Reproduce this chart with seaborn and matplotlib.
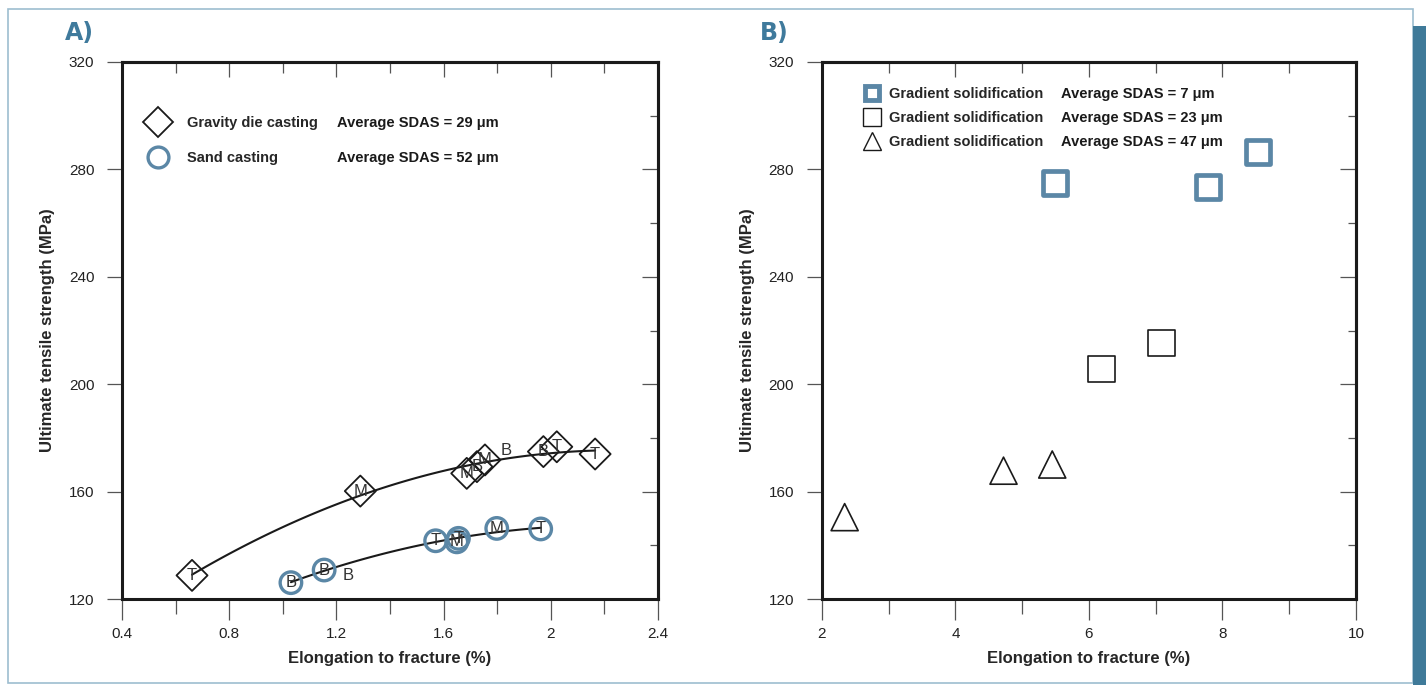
import numpy as np
import matplotlib
matplotlib.use('Agg')
import matplotlib.pyplot as plt
import seaborn as sns
from matplotlib.lines import Line2D
from matplotlib.patches import Rectangle
from matplotlib.ticker import MultipleLocator, FuncFormatter

# Panel A - gravity die casting (diamonds)
die_x = [0.661, 1.289, 1.686, 1.724, 1.754, 1.972, 2.022, 2.165]
die_y = [128.8, 160.2, 166.8, 169.3, 171.8, 174.9, 176.7, 174.0]
die_pos = ["T", "M", "M", "B", "M", "B", "T", "T"]
# sand casting (circles)
sand_x = [1.030, 1.154, 1.570, 1.649, 1.655, 1.798, 1.962]
sand_y = [126.1, 130.8, 141.7, 141.3, 142.6, 146.3, 146.1]
sand_pos = ["B", "B", "T", "M", "T", "M", "T"]
# position letters printed without a marker
free_x = [1.833, 1.244]
free_y = [175.5, 128.9]
free_pos = ["B", "B"]

# Panel B - gradient solidification
sdas7_x = [5.49, 7.78, 8.53]
sdas7_y = [274.9, 273.6, 286.5]
sdas23_x = [6.19, 7.09]
sdas23_y = [205.7, 215.3]
sdas47_x = [2.34, 4.72, 5.45]
sdas47_y = [150.5, 167.8, 170.1]

legA_names = ["Gravity die casting", "Sand casting"]
legA_sdas = ["Average SDAS = 29 μm", "Average SDAS = 52 μm"]
legB_names = ["Gradient solidification"] * 3
legB_sdas = ["Average SDAS = 7 μm", "Average SDAS = 23 μm", "Average SDAS = 47 μm"]

BLUE = "#5b87a6"
DARK = "#1a1a1a"
TITLE_BLUE = "#3f7a9c"

sns.set_style("ticks")
plt.rcParams['font.family'] = ['Liberation Sans', 'DejaVu Sans']

fig = plt.figure(figsize=(14.26, 6.85), dpi=100)
axA = fig.add_axes([0.0856, 0.1255, 0.3759, 0.784])
axB = fig.add_axes([0.5764, 0.1255, 0.3745, 0.784])


def style_axes(ax, xlim, xmaj, xmin):
    ax.set_xlim(*xlim)
    ax.set_ylim(120, 320)
    ax.xaxis.set_major_locator(MultipleLocator(xmaj))
    ax.xaxis.set_minor_locator(MultipleLocator(xmin))
    ax.yaxis.set_major_locator(MultipleLocator(40))
    ax.yaxis.set_minor_locator(MultipleLocator(20))
    ax.xaxis.set_major_formatter(FuncFormatter(lambda v, p: f"{v:g}"))
    for s in ax.spines.values():
        s.set_visible(True)
        s.set_linewidth(2.2)
        s.set_color(DARK)
    ax.tick_params(which='both', direction='out', color='#555555', width=0.9,
                   top=False, right=False, labelsize=11, labelcolor='#222222')
    ax.tick_params(axis='x', which='major', length=15, pad=5)
    ax.tick_params(axis='x', which='minor', length=11)
    ax.tick_params(axis='y', which='major', length=11, pad=9)
    ax.tick_params(axis='y', which='minor', length=0)
    # inward ticks on top and right
    tx = ax.secondary_xaxis('top')
    tx.xaxis.set_major_locator(MultipleLocator(xmaj))
    tx.xaxis.set_minor_locator(MultipleLocator(xmin))
    tx.tick_params(which='both', direction='in', labeltop=False, color='#555555', width=0.9)
    tx.tick_params(which='major', length=11)
    tx.tick_params(which='minor', length=8)
    tx.spines['top'].set_linewidth(2.2)
    ry = ax.secondary_yaxis('right')
    ry.yaxis.set_major_locator(MultipleLocator(40))
    ry.yaxis.set_minor_locator(MultipleLocator(20))
    ry.tick_params(which='both', direction='in', labelright=False, color='#555555', width=0.9)
    ry.tick_params(which='major', length=11.5)
    ry.tick_params(which='minor', length=6)
    ry.spines['right'].set_linewidth(2.2)
    ax.set_xlabel("Elongation to fracture (%)", fontsize=12, fontweight='bold', labelpad=7)
    ax.set_ylabel("Ultimate tensile strength (MPa)", fontsize=12, fontweight='bold', labelpad=10)


style_axes(axA, (0.4, 2.4), 0.4, 0.2)
style_axes(axB, (2, 10), 2, 1)

# ---- panel A ----
sns.regplot(x=np.array(die_x), y=np.array(die_y), order=2, ci=None, scatter=False,
            ax=axA, line_kws=dict(color=DARK, lw=1.5))
sns.regplot(x=np.array(sand_x), y=np.array(sand_y), order=2, ci=None, scatter=False,
            ax=axA, line_kws=dict(color=DARK, lw=1.5))
sns.scatterplot(x=die_x, y=die_y, marker='D', s=250, facecolor='none', edgecolor=DARK,
                linewidth=1.3, ax=axA, zorder=3, legend=False)
sns.scatterplot(x=sand_x, y=sand_y, marker='o', s=240, facecolor='none', edgecolor=BLUE,
                linewidth=2.4, ax=axA, zorder=3, legend=False)
for xs, ys, ls in [(die_x, die_y, die_pos), (sand_x, sand_y, sand_pos), (free_x, free_y, free_pos)]:
    for x, y, t in zip(xs, ys, ls):
        axA.text(x, y, t, ha='center', va='center', fontsize=12, color='#333333', zorder=4)

hA = [Line2D([], [], marker='D', ls='none', ms=15.5, mfc='none', mec=DARK, mew=1.3),
      Line2D([], [], marker='o', ls='none', ms=15, mfc='none', mec=BLUE, mew=2.4)]
legA = axA.legend(hA, legA_names, loc='upper left', bbox_to_anchor=(0.040, 0.899),
                  frameon=False, prop=dict(weight='bold', size=10.5), borderpad=0,
                  borderaxespad=0, handlelength=2.0, handletextpad=0.99, labelspacing=1.40)

# ---- panel B ----
sns.scatterplot(x=sdas7_x, y=sdas7_y, marker='s', s=295, facecolor='none', edgecolor=BLUE,
                linewidth=3.4, ax=axB, zorder=3, legend=False)
sns.scatterplot(x=sdas23_x, y=sdas23_y, marker='s', s=370, facecolor='none', edgecolor=DARK,
                linewidth=1.2, ax=axB, zorder=3, legend=False)
sns.scatterplot(x=sdas47_x, y=sdas47_y, marker='^', s=380, facecolor='none', edgecolor=DARK,
                linewidth=1.2, ax=axB, zorder=3, legend=False)

hB = [Line2D([], [], marker='s', ls='none', ms=9.6, mfc='none', mec=BLUE, mew=3.5),
      Line2D([], [], marker='s', ls='none', ms=12.5, mfc='none', mec=DARK, mew=1.0),
      Line2D([], [], marker='^', ls='none', ms=13, mfc='none', mec=DARK, mew=1.0)]
legB = axB.legend(hB, legB_names, loc='upper left', bbox_to_anchor=(0.077, 0.954),
                  frameon=False, prop=dict(weight='bold', size=10.5), borderpad=0,
                  borderaxespad=0, handlelength=1.2, handletextpad=0.57, labelspacing=0.69)

fig.canvas.draw()
for leg, ax, texts, off in [(legA, axA, legA_sdas, 150), (legB, axB, legB_sdas, 172)]:
    for lt, s in zip(leg.get_texts(), texts):
        ax.annotate(s, xy=(0, 0.5), xycoords=lt, xytext=(off, 0), textcoords='offset pixels',
                    ha='left', va='center', fontsize=10.5, fontweight='bold', color=DARK)

# panel letters
fig.text(65 / 1426, 1 - 33 / 685, "A)", fontsize=17, fontweight='bold', color=TITLE_BLUE,
         family='DejaVu Sans', ha='left', va='center')
fig.text(760 / 1426, 1 - 33 / 685, "B)", fontsize=17, fontweight='bold', color=TITLE_BLUE,
         family='DejaVu Sans', ha='left', va='center')

# page frame and side bar
fig.add_artist(Rectangle((8 / 1426, 2 / 685), 1405 / 1426, 674 / 685, transform=fig.transFigure,
                         fill=False, edgecolor='#9dbdd0', lw=1.2))
fig.add_artist(Rectangle((1413 / 1426, 0), 13 / 1426, 659 / 685, transform=fig.transFigure,
                         facecolor='#3f7a99', edgecolor='none'))

fig.savefig("out.png", dpi=100)
